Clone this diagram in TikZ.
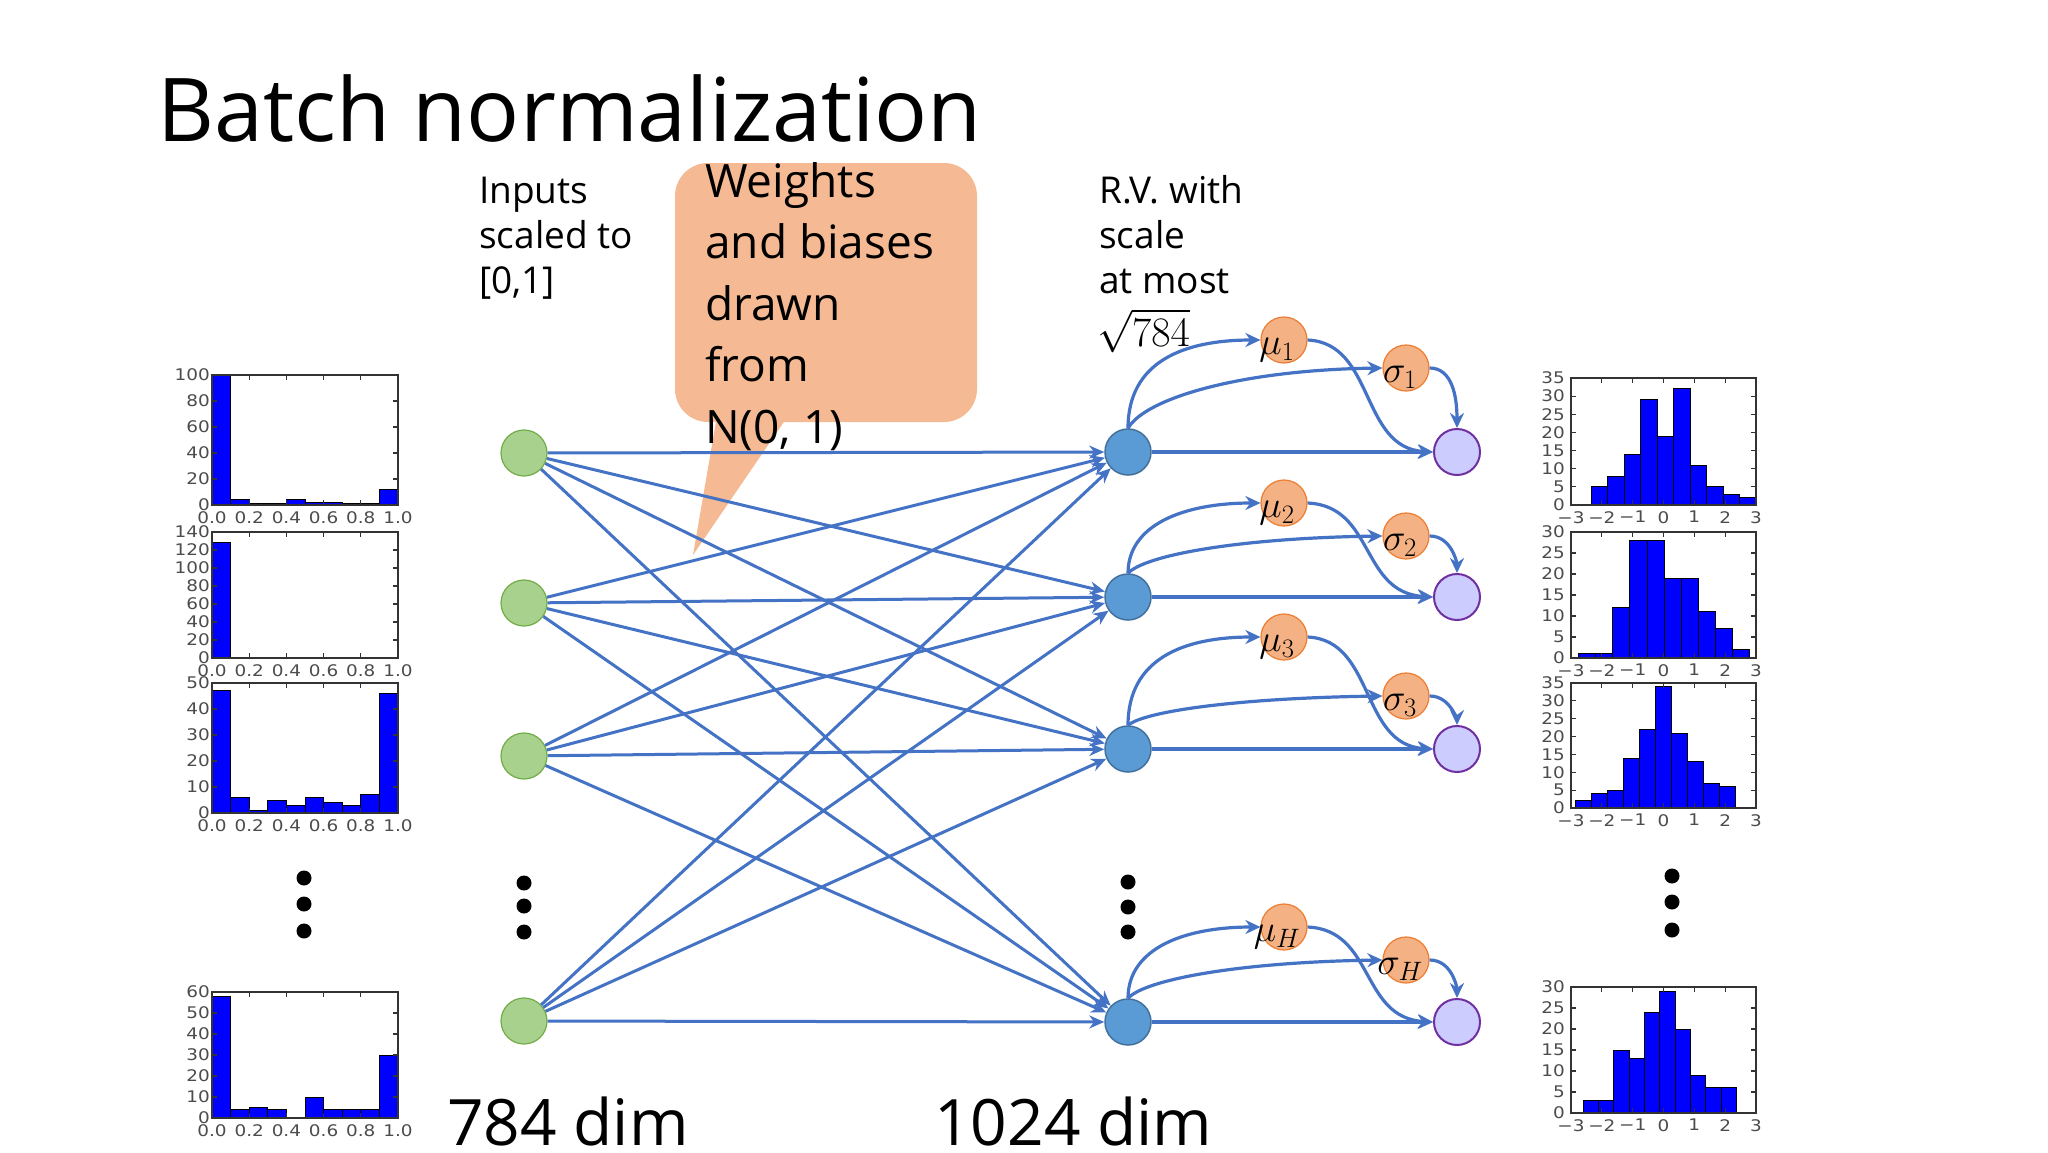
\RequirePackage{fix-cm}
\documentclass[tikz,border=0pt]{standalone}
\usepackage{graphicx}
\usepackage[no-math]{fontspec}
\setmainfont{Open Sans}
\newfontfamily\histfont{DejaVu Sans}
\usetikzlibrary{arrows.meta}
\definecolor{lineblue}{HTML}{4472C4}
\definecolor{ingreen}{HTML}{A9D18E}
\definecolor{ingreenb}{HTML}{70AD47}
\definecolor{hidfill}{HTML}{5B9BD5}
\definecolor{hidline}{HTML}{41719C}
\definecolor{outfill}{HTML}{CCCCFF}
\definecolor{outline}{HTML}{7030A0}
\definecolor{orfill}{HTML}{F4B183}
\definecolor{orline}{HTML}{ED7D31}
\definecolor{callfill}{HTML}{F5BA93}
\definecolor{barblue}{HTML}{0000FF}
\tikzset{
  netline/.style={draw=lineblue, line width=3pt, -{Stealth[length=15pt,width=13pt]}},
  curvearr/.style={draw=lineblue, line width=3.2pt, -{Stealth[length=15pt,width=14pt]}},
  innode/.style={circle, minimum size=46pt, inner sep=0pt, fill=ingreen, draw=ingreenb, line width=1.2pt},
  hidnode/.style={circle, minimum size=46pt, inner sep=0pt, fill=hidfill, draw=hidline, line width=1.5pt},
  outnode/.style={circle, minimum size=46pt, inner sep=0pt, fill=outfill, draw=outline, line width=2pt},
  stnode/.style={circle, minimum size=46pt, inner sep=0pt, fill=orfill, draw=orline, line width=1.2pt},
  dotnode/.style={circle, fill=black, minimum size=15pt, inner sep=0pt},
  mathlab/.style={inner sep=0pt, font=\fontsize{38}{42}\selectfont},
  plain/.style={inner sep=0pt, anchor=base west},
  barst/.style={fill=barblue, draw=black, line width=0.8pt},
  framest/.style={draw=black!80, line width=1.8pt},
  tickst/.style={draw=black!80, line width=1.2pt},
  ticklab/.style={inner sep=0pt, text=black!70, font={\histfont\fontsize{16}{16}\selectfont}},
}
% bars: #1 start px, #2 bar width px, #3 top, #4 bottom, #5 ymax, #6 values
\newcommand\histbars[6]{%
  \foreach \v [count=\k from 0] in {#6}{%
    \ifdim \v pt>0pt
      \filldraw[barst] ({#1+\k*#2},#4) rectangle ({#1+(\k+1)*#2},{#4-(#4-#3)*(\v/#5)});
    \fi
  }}
% frame + y axis: #1 prefix, #2 x0, #3 x1, #4 top, #5 bottom, #6 ymax, #7 step, #8 label gap
\newcommand\histframe[8]{%
  \foreach \t in {0,#7,...,#6}{%
    \pgfmathsetmacro\yy{#5-(#5-#4)*(\t/#6)}
    \node[ticklab, anchor=east] (#1y\t) at ({#2-#8},\yy) {\scalebox{1.15}[1]{\t}};
    \draw[tickst] (#2,\yy) -- ++(5,0) (#3,\yy) -- ++(-5,0);
  }
  \draw[framest] (#2,#4) rectangle (#3,#5);
}
% x axis left (0..1): #1 prefix, #2 x0, #3 top, #4 bottom
\newcommand\histxleft[4]{%
  \foreach \lab [count=\k from 0] in {0.0,0.2,0.4,0.6,0.8,1.0}{%
    \pgfmathsetmacro\xx{#2+\k*37.2}
    \node[ticklab, anchor=north] (#1x\k) at (\xx,{#4+6}) {\scalebox{1.15}[1]{\lab}};
    \draw[tickst] (\xx,#4) -- ++(0,-5) (\xx,#3) -- ++(0,5);
  }}
% x axis right (-3..3)
\newcommand\histxright[4]{%
  \foreach \lab [count=\k from 0] in {−3,−2,−1,0,1,2,3}{%
    \pgfmathsetmacro\xx{#2+\k*30.833}
    \node[ticklab, anchor=north] (#1x\k) at (\xx,{#4+6}) {\scalebox{1.15}[1]{\lab}};
    \draw[tickst] (\xx,#4) -- ++(0,-5) (\xx,#3) -- ++(0,5);
  }}
\begin{document}
\begin{tikzpicture}[x=1pt,y=-1pt]
\useasboundingbox (0,0) rectangle (2048,1152);
\fill[white] (0,0) rectangle (2048,1152);

% title
\node[plain, font=\fontsize{88}{100}\selectfont] (title) at (157,141) {Batch normalization};

% callout
\fill[callfill, rounded corners=33pt] (675,163) rectangle (977,422);
\fill[callfill] (718,410) -- (792,410) -- (693,555) -- cycle;
\foreach \txt [count=\k] in {Weights, and biases, drawn, from, {N(0, 1)}}{
  \node[plain, font=\fontsize{46}{50}\selectfont] (co\k) at (705,{197+(\k-1)*61.5}) {\txt};
}

% text labels
\foreach \txt [count=\k] in {Inputs, scaled to, {[0,1]}}{
  \node[plain, font=\fontsize{37}{40}\selectfont] (inl\k) at (479,{203+(\k-1)*45}) {\txt};
}
\foreach \txt [count=\k] in {R.V. with, scale, at most}{
  \node[plain, font=\fontsize{37}{40}\selectfont] (rv\k) at (1099,{203+(\k-1)*45}) {\txt};
}
\node[plain, font=\fontsize{42}{46}\selectfont] (rv4) at (1097,346) {$\sqrt{784}$};
\node[plain, font=\fontsize{64}{70}\selectfont] (dimA) at (447,1145) {784 dim};
\node[plain, font=\fontsize{64}{70}\selectfont] (dimB) at (934,1145) {1024 dim};

% input nodes
\foreach \i/\y in {1/453, 2/603, 3/756, 4/1021}{
  \node[innode] (in\i) at (524,\y) {};
}
% rows
\foreach \i/\hy/\my/\sy in {1/452/340/368, 2/597/503/536, 3/749/637/696, 4/1022/927/960}{
  \node[hidnode] (h\i) at (1128,\hy) {};
  \node[outnode] (o\i) at (1457,\hy) {};
  \node[stnode] (m\i) at (1284,\my) {};
  \node[stnode] (s\i) at (1406,\sy) {};
}
% network connections
\foreach \a in {1,...,4}{
  \foreach \b in {1,...,4}{
    \draw[netline] (in\a) -- (h\b);
  }
}
% normalization arrows
\foreach \i/\hy/\my/\sy/\sub in {1/452/340/368/1, 2/597/503/536/2, 3/749/637/696/3, 4/1022/927/960/H}{
  \draw[curvearr] (h\i.north) .. controls (1128,{\my+22}) and (1183,\my) .. (m\i.west);
  \draw[curvearr] (h\i.north) .. controls (1145,{(\hy-23+\sy)/2}) and (1240,{\sy+2}) .. (s\i.west);
  \draw[curvearr] (m\i.east) .. controls (1375,{\my+3}) and (1360,{\hy-4}) .. (o\i.west);
  \draw[curvearr] (s\i.east) .. controls (1452,\sy) and (1457,{\sy+28}) .. (o\i.north);
  \draw[curvearr] (h\i) -- (o\i);
  \node[mathlab] (ml\i) at (1277,{\my+10}) {$\mu_{\sub}$};
  \node[mathlab] (sl\i) at (1400,{\sy+9}) {$\sigma_{\sub}$};
}

% vertical dots
\foreach \x/\ya/\yb/\yc/\n in {304/878/904/931/a, 524/883/906/932/b, 1128/882/907/932/c, 1672/876/902/930/d}{
  \node[dotnode] (d\n1) at (\x,\ya) {};
  \node[dotnode] (d\n2) at (\x,\yb) {};
  \node[dotnode] (d\n3) at (\x,\yc) {};
}

% left histograms
\histbars{212}{18.6}{375}{505}{100}{100,4,1,1,4,2,2,1,1,12}
\histframe{la}{212}{398}{375}{505}{100}{20}{2}
\histxleft{la}{212}{375}{505}

\histbars{212}{18.6}{532}{658}{140}{128,0,0,0,0,0,0,0,0,0}
\histframe{lb}{212}{398}{532}{658}{140}{20}{2}
\histxleft{lb}{212}{532}{658}

\histbars{212}{18.6}{683}{813}{50}{47,6,1,5,3,6,4,3,7,46}
\histframe{lc}{212}{398}{683}{813}{50}{10}{2}
\histxleft{lc}{212}{683}{813}

\histbars{212}{18.6}{992}{1118}{60}{58,4,5,4,0,10,4,4,4,30}
\histframe{ld}{212}{398}{992}{1118}{60}{10}{2}
\histxleft{ld}{212}{992}{1118}

% right histograms
\histbars{1591.0}{16.5}{378}{505}{35}{5,8,14,29,19,32,11,5,3,2}
\histframe{ra}{1571}{1756}{378}{505}{35}{5}{6}
\histxright{ra}{1571}{378}{505}

\histbars{1578.7}{17.05}{532}{658}{30}{1,1,12,28,28,19,19,11,7,2}
\histframe{rb}{1571}{1756}{532}{658}{30}{5}{6}
\histxright{rb}{1571}{532}{658}

\histbars{1575.3}{15.97}{683}{808}{35}{2,4,5,14,22,34,21,13,7,6}
\histframe{rc}{1571}{1756}{683}{808}{35}{5}{6}
\histxright{rc}{1571}{683}{808}

\histbars{1583.0}{15.35}{987}{1113}{30}{3,3,15,13,24,29,20,9,6,6}
\histframe{rd}{1571}{1756}{987}{1113}{30}{5}{6}
\histxright{rd}{1571}{987}{1113}
\end{tikzpicture}
\end{document}
